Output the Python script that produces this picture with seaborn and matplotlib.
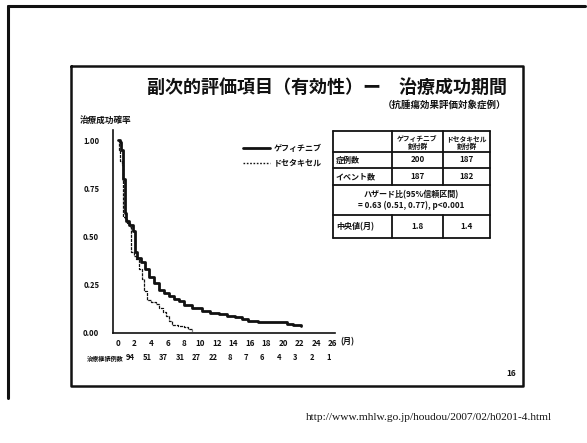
import matplotlib
matplotlib.use("Agg")
import matplotlib.pyplot as plt
import seaborn as sns
import pandas as pd

sns.set_theme(style="white")
plt.rcParams['font.family'] = ['Noto Sans CJK JP', 'DejaVu Sans']

# Kaplan-Meier style curves (months, probability of treatment success)
gef_time = [0, 0.2, 0.4, 0.6, 0.8, 1.0, 1.3, 1.8, 2.0, 2.3, 2.8, 3.3, 3.8, 4.4, 5.0,
            5.6, 6.2, 6.8, 7.4, 8.0, 9.0, 10.2, 11.2, 12.2, 13.2, 14.2, 15.0, 15.8,
            17.0, 18.5, 19.8, 20.5, 21.2, 22.2]
gef_surv = [1.0, 0.99, 0.95, 0.80, 0.62, 0.58, 0.56, 0.53, 0.42, 0.39, 0.37, 0.33, 0.29,
            0.26, 0.225, 0.205, 0.19, 0.175, 0.165, 0.145, 0.13, 0.115, 0.105, 0.098,
            0.09, 0.082, 0.072, 0.06, 0.057, 0.056, 0.055, 0.047, 0.042, 0.038]
doc_time = [0, 0.15, 0.25, 0.45, 0.6, 0.8, 1.1, 1.45, 1.6, 1.9, 2.2, 2.6, 2.9, 3.2,
            3.5, 4.0, 4.6, 5.0, 5.4, 5.8, 6.2, 6.6, 7.3, 8.0, 8.5, 9.0]
doc_surv = [1.0, 0.95, 0.89, 0.87, 0.60, 0.59, 0.57, 0.55, 0.42, 0.40, 0.385, 0.33,
            0.28, 0.22, 0.17, 0.16, 0.15, 0.13, 0.11, 0.09, 0.06, 0.04, 0.035, 0.03,
            0.02, 0.012]

x_ticks = list(range(0, 27, 2))
y_ticks = [0.0, 0.25, 0.50, 0.75, 1.00]
y_tick_labels = ["0.00", "0.25", "0.50", "0.75", "1.00"]
at_risk = ["94", "51", "37", "31", "27", "22", "8", "7", "6", "4", "3", "2", "1"]

series_names = ["ゲフィチニブ", "ドセタキセル"]
table_header = ["ゲフィチニブ\n割付群", "ドセタキセル\n割付群"]
row_cases = ["症例数", "200", "187"]
row_events = ["イベント数", "187", "182"]
hazard_text = "ハザード比(95%信頼区間)\n= 0.63 (0.51, 0.77), p<0.001"
row_median = ["中央値(月)", "1.8", "1.4"]

title = "副次的評価項目（有効性）ー　治療成功期間"
subtitle = "（抗腫瘍効果評価対象症例）"
y_label = "治療成功確率"
risk_label = "治療継続例数"
url = "http://www.mhlw.go.jp/houdou/2007/02/h0201-4.html"

W, H = 587, 443
fig = plt.figure(figsize=(W / 100, H / 100), dpi=100)
fig.patch.set_facecolor("white")

# overlay in pixel coordinates for frames, table and text
ov = fig.add_axes([0, 0, 1, 1], zorder=0)
ov.set_xlim(0, W)
ov.set_ylim(H, 0)
ov.axis("off")

k = "#111111"
# outer slide border
ov.plot([8, 8], [6, 398], color=k, lw=2.2)
ov.plot([8, 585], [6, 6], color=k, lw=2.2)
# inner slide frame
ov.plot([71, 523, 523, 71, 71], [66, 66, 386, 386, 66], color=k, lw=1.8)

ov.text(507, 87, title, ha="right", va="center", fontsize=13, fontweight="bold", color=k)
ov.text(506, 105, subtitle, ha="right", va="center", fontsize=6.8, fontweight="bold", color=k)
ov.text(80, 120, y_label, ha="left", va="center", fontsize=6.2, fontweight="bold", color=k)
ov.text(511, 373, "16", ha="center", va="center", fontsize=6, fontweight="bold", color=k)
ov.text(429, 418, url, ha="center", va="center", fontsize=8.2,
        family=["Liberation Serif", "DejaVu Serif"], color=k)

# summary table
cx = [333, 392, 443, 490]
ry = [131, 152, 168, 185, 215, 238]
lw_t = 1.3
for y in ry[1:]:
    ov.plot([cx[0], cx[3]], [y, y], color=k, lw=lw_t)
ov.plot([cx[0], cx[0]], [ry[0], ry[5]], color=k, lw=lw_t)
ov.plot([cx[3], cx[3]], [ry[0], ry[5]], color=k, lw=lw_t)
for c in (cx[1], cx[2]):
    ov.plot([c, c], [ry[0], ry[3]], color=k, lw=lw_t)
    ov.plot([c, c], [ry[4], ry[5]], color=k, lw=lw_t)
ov.plot([cx[0], cx[3]], [ry[0], ry[0]], color=k, lw=lw_t)

fs_t = 5.8
for i, h in enumerate(table_header):
    ov.text((cx[i + 1] + cx[i + 2]) / 2, (ry[0] + ry[1]) / 2 + 1, h, ha="center",
            va="center", fontsize=4.9, fontweight="bold", color=k, linespacing=1.1)
for row, (y0, y1) in ((row_cases, (ry[1], ry[2])), (row_events, (ry[2], ry[3])),
                      (row_median, (ry[4], ry[5]))):
    ym = (y0 + y1) / 2
    ov.text(cx[0] + 3, ym, row[0], ha="left", va="center", fontsize=fs_t,
            fontweight="bold", color=k)
    ov.text((cx[1] + cx[2]) / 2, ym, row[1], ha="center", va="center", fontsize=fs_t,
            fontweight="bold", color=k)
    ov.text((cx[2] + cx[3]) / 2, ym, row[2], ha="center", va="center", fontsize=fs_t,
            fontweight="bold", color=k)
ov.text((cx[0] + cx[3]) / 2, (ry[3] + ry[4]) / 2, hazard_text, ha="center", va="center",
        fontsize=fs_t, fontweight="bold", color=k, linespacing=1.2)

# legend
ov.plot([243, 270], [148, 148], color=k, lw=2.0)
ov.text(274, 148, series_names[0], ha="left", va="center", fontsize=5.8,
        fontweight="bold", color=k)
ov.plot([243, 270], [163, 163], color=k, lw=1.0, ls=(0, (1.2, 1.2)))
ov.text(274, 163, series_names[1], ha="left", va="center", fontsize=5.8,
        fontweight="bold", color=k)

# survival plot axes
px_per_month = 8.25
x_lo, x_hi = -0.6, 26.3
x0_px = 118
x_left_px = x0_px + x_lo * px_per_month
y_px_per_unit = 193
y_lo, y_hi = 0.0, 1.05
y0_px = 333
ax = fig.add_axes([x_left_px / W, (H - y0_px) / H,
                   (x_hi - x_lo) * px_per_month / W, (y_hi - y_lo) * y_px_per_unit / H],
                  zorder=1)
ax.patch.set_alpha(0)

gef = pd.DataFrame({"month": gef_time, "prob": gef_surv})
doc = pd.DataFrame({"month": doc_time, "prob": doc_surv})
sns.lineplot(data=gef, x="month", y="prob", ax=ax, color=k, lw=2.0,
             drawstyle="steps-post", estimator=None)
sns.lineplot(data=doc, x="month", y="prob", ax=ax, color=k, lw=0.9,
             ls=(0, (2.5, 0.8)), drawstyle="steps-post", estimator=None)

ax.set_xlim(x_lo, x_hi)
ax.set_ylim(y_lo, y_hi)
ax.set_xlabel("")
ax.set_ylabel("")
for s in ("top", "right"):
    ax.spines[s].set_visible(False)
for s in ("left", "bottom"):
    ax.spines[s].set_color(k)
    ax.spines[s].set_linewidth(1.2)
ax.set_xticks(x_ticks)
ax.set_xticklabels([str(t) for t in x_ticks], fontsize=5.8, fontweight="bold", color=k)
ax.set_yticks(y_ticks)
ax.set_yticklabels(y_tick_labels, fontsize=5.5, fontweight="bold", color=k)
ax.tick_params(axis="x", length=2, width=0.8, pad=2, color=k)
ax.tick_params(axis="y", length=0, pad=10)
ax.grid(False)

ov.text(x0_px + 26 * px_per_month + 8, 342, "(月)", ha="left", va="center", fontsize=5.8,
        fontweight="bold", color=k)
ov.text(87, 358, risk_label, ha="left", va="center", fontsize=4.4, fontweight="bold", color=k)
for t, n in zip(x_ticks[1:], at_risk):
    ov.text(x0_px + (t - 0.5) * px_per_month, 358, n, ha="center", va="center",
            fontsize=5.5, fontweight="bold", color=k)

fig.savefig("out.png", dpi=100)
